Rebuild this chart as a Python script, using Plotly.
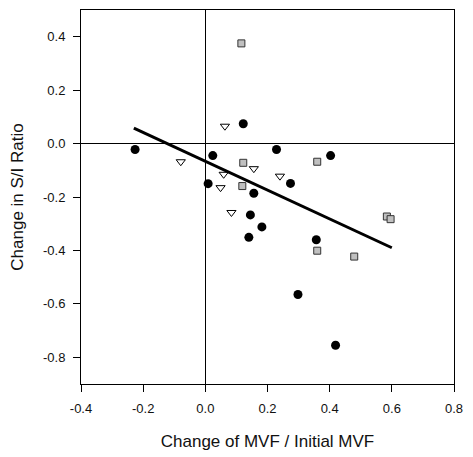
from plotly import graph_objs as go

# filled circles
circle_x = [-0.226, 0.024, 0.009, 0.122, 0.229, 0.403, 0.274, 0.156, 0.145, 0.182, 0.140, 0.357, 0.298, 0.419]
circle_y = [-0.022, -0.045, -0.150, 0.074, -0.022, -0.045, -0.149, -0.186, -0.267, -0.312, -0.351, -0.360, -0.565, -0.755]

# grey squares
square_x = [0.116, 0.122, 0.119, 0.360, 0.584, 0.596, 0.360, 0.479]
square_y = [0.375, -0.072, -0.159, -0.068, -0.273, -0.283, -0.401, -0.423]

# open down-triangles
tri_x = [0.063, -0.079, 0.059, 0.049, 0.084, 0.156, 0.240]
tri_y = [0.065, -0.068, -0.115, -0.165, -0.258, -0.094, -0.122]

# regression line end points
fit_x = [-0.23, 0.60]
fit_y = [0.058, -0.390]

x_ticks = [-0.4, -0.2, 0.0, 0.2, 0.4, 0.6, 0.8]
x_labels = ["-0.4", "-0.2", "0.0", "0.2", "0.4", "0.6", "0.8"]
y_ticks = [0.4, 0.2, 0.0, -0.2, -0.4, -0.6, -0.8]
y_labels = ["0.4", "0.2", "0.0", "-0.2", "-0.4", "-0.6", "-0.8"]

font = "Liberation Sans, Arial, sans-serif"

fig = go.Figure()

fig.add_trace(go.Scatter(
    x=circle_x, y=circle_y, mode="markers",
    marker=dict(symbol="circle", size=9, color="black"),
))
fig.add_trace(go.Scatter(
    x=square_x, y=square_y, mode="markers",
    marker=dict(symbol="square", size=7, color="#c0c0c0",
                line=dict(color="#333333", width=1)),
))
fig.add_trace(go.Scatter(
    x=tri_x, y=tri_y, mode="markers",
    marker=dict(symbol="triangle-down", size=8, color="white",
                line=dict(color="black", width=1)),
))
fig.add_trace(go.Scatter(
    x=fit_x, y=fit_y, mode="lines",
    line=dict(color="black", width=3),
))

axis_common = dict(
    showgrid=False, automargin=False,
    showline=True, linecolor="black", linewidth=1, mirror=True,
    ticks="outside", ticklen=7, tickcolor="black", ticklabelstandoff=5,
    zeroline=True, zerolinecolor="black", zerolinewidth=1,
    tickfont=dict(family=font, size=13, color="#111111"),
)

fig.update_xaxes(
    range=[-0.4, 0.8], tickvals=x_ticks, ticktext=x_labels,
    title=dict(text="Change of MVF / Initial MVF", standoff=20,
               font=dict(family=font, size=17, color="#111111")),
    **axis_common
)
fig.update_yaxes(
    range=[-0.9, 0.5], tickvals=y_ticks, ticktext=y_labels,
    title=dict(text="Change in S/I Ratio", standoff=16,
               font=dict(family=font, size=17, color="#111111")),
    **axis_common
)

# the page body adds an 8 px offset, so the figure is 8 px smaller
fig.update_layout(
    width=465, height=449,
    margin=dict(l=73, r=19, t=2, b=73),
    plot_bgcolor="white", paper_bgcolor="white",
    showlegend=False,
)

fig.write_html("out.html")
